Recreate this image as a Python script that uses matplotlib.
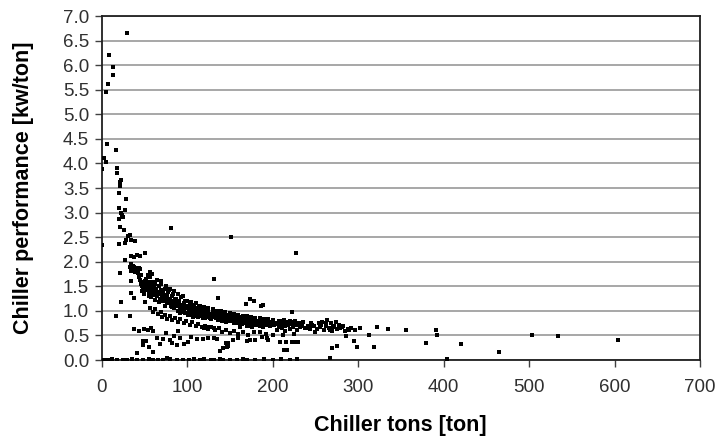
import matplotlib
matplotlib.use('Agg')
import matplotlib.pyplot as plt

# ── Chiller data (tons, kw/ton) ─────────────────────────────────────────────
# steep low-load part
steep_x = [30, 9, 14, 14, 8, 5, 6, 17, 3, 5, 0.5, 18, 18, 23, 22, 22, 21, 29, 20, 27,
           23, 24, 25, 20, 22, 26, 81, 33, 31, 29, 35, 39, 27, 21, 0.5, 151, 227,
           1, 35, 38, 42, 45, 51, 27.5, 33, 36, 39, 41, 43, 37, 35, 21.6, 44, 54, 57, 59,
           34.5, 35, 38, 40, 45, 56.7, 35, 131, 136.6, 174, 178, 169, 187, 189]
steep_y = [6.65, 6.21, 5.96, 5.8, 5.61, 5.45, 4.39, 4.27, 4.12, 4.02, 3.88, 3.9, 3.8, 3.67,
           3.63, 3.54, 3.39, 3.28, 3.1, 3.05, 3.0, 2.96, 2.92, 2.86, 2.71, 2.64, 2.69, 2.55,
           2.52, 2.45, 2.45, 2.43, 2.39, 2.37, 2.34, 2.51, 2.18,
           2.35, 2.12, 2.1, 2.14, 2.11, 2.18, 2.04, 1.9, 1.85, 1.8, 1.88, 1.78, 1.92, 1.82,
           1.77, 1.87, 1.72, 1.68, 1.76, 1.95, 1.6, 1.9, 1.84, 1.86, 1.8, 1.6, 1.65, 1.27,
           1.24, 1.2, 1.14, 1.1, 1.12]

# main decay band
band_x = [45, 46, 47, 48, 49, 50, 51, 52, 53, 54, 55, 56, 57, 58, 59, 60, 44, 46, 50, 55,
          61, 62, 63, 64, 65, 66, 67, 68, 69, 70, 71, 72, 73, 74, 75, 76, 77, 78, 79, 80,
          81, 82, 83, 84, 85, 86, 87, 88, 89, 90, 91, 92, 93, 94, 95, 96, 97, 98, 99, 100,
          102, 103, 104, 105, 106, 107, 108, 109, 110, 111, 112, 113, 114, 115, 116, 117,
          118, 119, 120, 121, 122, 123, 124, 125, 126, 127, 128, 129, 130, 131, 132, 133,
          134, 135, 136, 137, 138, 139, 140, 141, 142, 143, 144, 145, 146, 147, 148, 149,
          150, 151, 152, 153, 154, 155, 156, 157, 158, 159, 160, 161, 162, 163, 164, 165,
          166, 167, 168, 169, 170, 171, 172, 173, 174, 175, 176, 177, 178, 179, 180, 181,
          182, 183, 184, 185, 186, 187, 188, 189, 190, 192, 193, 194, 195, 196, 198, 200,
          202, 204, 206, 208, 210, 212, 214, 216, 218, 220, 222, 225, 228, 231,
          60, 65, 70, 75, 80, 85, 90, 95, 100, 105, 110, 115, 120, 125, 130, 135, 140, 145,
          150, 155, 160, 165, 170, 175, 180, 185, 190, 195, 200, 210, 220]
band_y = [1.62, 1.55, 1.5, 1.58, 1.45, 1.52, 1.6, 1.42, 1.48, 1.55, 1.38, 1.45, 1.5, 1.35,
          1.42, 1.48, 1.68, 1.72, 1.35, 1.3, 1.32, 1.4, 1.55, 1.45, 1.3, 1.38, 1.5, 1.25,
          1.35, 1.42, 1.28, 1.2, 1.32, 1.45, 1.25, 1.15, 1.3, 1.38, 1.18, 1.25, 1.1, 1.2,
          1.3, 1.15, 1.05, 1.22, 1.12, 1.18, 1.0, 1.1, 1.2, 1.05, 1.12, 0.98, 1.08, 1.15,
          1.02, 0.95, 1.1, 1.05, 0.98, 1.12, 1.0, 0.92, 1.05, 0.97, 1.08, 0.9, 1.0, 0.95,
          1.05, 0.88, 0.98, 0.93, 1.02, 0.9, 0.96, 0.86, 0.95, 1.0, 0.9, 0.95, 0.88, 0.98,
          0.92, 0.85, 0.94, 0.9, 0.97, 0.87, 0.92, 0.95, 0.85, 0.9, 0.93, 0.86, 0.9, 0.82,
          0.88, 0.92, 0.85, 0.89, 0.83, 0.87, 0.9, 0.82, 0.86, 0.8, 0.88, 0.84, 0.8, 0.87,
          0.82, 0.85, 0.78, 0.83, 0.86, 0.8, 0.84, 0.78, 0.82, 0.76, 0.8, 0.84, 0.78, 0.81,
          0.75, 0.8, 0.83, 0.77, 0.8, 0.74, 0.79, 0.82, 0.76, 0.79, 0.73, 0.78, 0.8, 0.74,
          0.77, 0.72, 0.78, 0.75, 0.79, 0.72, 0.76, 0.73, 0.78, 0.74, 0.71, 0.76, 0.73,
          0.77, 0.72, 0.75, 0.71, 0.76, 0.73, 0.7, 0.75, 0.72, 0.78, 0.74, 0.71, 0.76, 0.73,
          0.78, 0.72, 0.75,
          1.58, 1.62, 1.6, 1.5, 1.45, 1.4, 1.35, 1.3, 1.2, 1.18, 1.15, 1.1, 1.08, 1.05,
          1.03, 1.0, 1.0, 0.97, 0.95, 0.93, 0.92, 0.9, 0.9, 0.88, 0.86, 0.85, 0.84, 0.83,
          0.82, 0.8, 0.8]

# extra readings that thicken the band
band2_x = [47, 52, 56, 58, 61, 63, 67, 69, 72, 74, 78, 79, 83, 84, 87, 89, 92, 93, 97, 98,
           101, 103, 104, 107, 108, 111, 113, 114, 117, 118, 121, 122, 124, 127, 128, 131,
           133, 134, 136, 137, 139, 141, 143, 144, 146, 148, 149, 151, 153, 155, 156, 158,
           160, 162, 164, 166, 168, 171, 173, 175, 177, 179, 181, 183, 185, 187, 189, 191,
           194, 197, 199, 203, 207, 211, 215, 219, 224, 227, 233, 236, 240, 245, 248, 252,
           257, 263, 267, 271, 279, 283, 290]
band2_y = [1.4, 1.65, 1.58, 1.28, 1.52, 1.22, 1.18, 1.55, 1.38, 1.1, 1.22, 1.42, 1.08,
           1.35, 1.25, 1.15, 0.95, 1.28, 1.12, 1.2, 0.92, 1.05, 1.15, 0.88, 1.12, 1.02,
           0.95, 1.1, 0.97, 1.05, 0.85, 0.97, 1.02, 0.92, 0.83, 0.95, 0.88, 1.0, 0.82, 0.95,
           0.9, 0.8, 0.93, 0.86, 0.78, 0.92, 0.85, 0.79, 0.9, 0.76, 0.87, 0.81, 0.75, 0.88,
           0.74, 0.83, 0.79, 0.85, 0.7, 0.78, 0.84, 0.71, 0.8, 0.76, 0.7, 0.82, 0.68, 0.75,
           0.8, 0.69, 0.78, 0.74, 0.68, 0.77, 0.7, 0.73, 0.67, 0.74, 0.7, 0.78, 0.66, 0.76,
           0.7, 0.64, 0.72, 0.76, 0.62, 0.67, 0.66, 0.7, 0.61]

# lower sub-band
sub_x = [57, 60, 63, 66, 69, 71, 74, 77, 80, 83, 86, 89, 92, 96, 99, 103, 106, 110, 113,
         117, 121, 124, 128, 133, 137, 141, 146, 150, 155, 160, 166, 171, 178, 185, 192,
         200, 212, 225]
sub_y = [1.06, 0.98, 1.04, 0.93, 0.97, 0.88, 0.92, 0.84, 0.9, 0.82, 0.86, 0.78, 0.83,
         0.75, 0.8, 0.72, 0.77, 0.7, 0.74, 0.67, 0.7, 0.64, 0.68, 0.61, 0.65, 0.58, 0.62,
         0.55, 0.59, 0.53, 0.56, 0.5, 0.58, 0.56, 0.52, 0.5, 0.5, 0.52]

# right tail, beyond 200 tons
tail_x = [205, 208, 211, 213, 215, 218, 221, 224, 226, 229, 232, 235, 238, 241, 244, 246,
          250, 254, 256, 258, 260, 262, 264, 266, 268, 270, 272, 274, 276, 278, 281, 285,
          288, 292, 297, 302, 313, 322, 335, 356, 391, 392, 380, 420, 465, 504, 534, 604,
          286, 269, 275, 295, 299, 319, 214, 216, 223, 226, 230, 222.5]
tail_y = [0.62, 0.8, 0.66, 0.82, 0.6, 0.78, 0.64, 0.7, 0.8, 0.62, 0.68, 0.74, 0.65, 0.7,
          0.63, 0.72, 0.58, 0.75, 0.68, 0.78, 0.62, 0.7, 0.81, 0.66, 0.75, 0.6, 0.7, 0.77,
          0.64, 0.72, 0.68, 0.6, 0.64, 0.65, 0.62, 0.66, 0.51, 0.67, 0.63, 0.61, 0.61, 0.51,
          0.34, 0.32, 0.17, 0.51, 0.48, 0.41, 0.49, 0.24, 0.29, 0.39, 0.27, 0.26, 0.2, 0.37,
          0.36, 0.36, 0.37, 0.97]

# scattered low readings
low_x = [33, 17, 22.5, 51, 35, 38, 38, 44, 50, 54, 48.5, 42, 55, 60, 65, 72, 80, 82, 85,
         88, 92, 96, 101, 105, 112, 49, 52, 68, 119, 125, 131, 135, 139, 142, 148, 148,
         146, 147, 154, 160, 170, 174, 180, 188, 193, 195, 209, 217, 120, 126, 131, 162,
         170, 176, 60, 58, 75, 90]
low_y = [0.9, 0.9, 1.19, 1.19, 1.37, 1.26, 0.63, 0.6, 0.64, 0.62, 0.39, 0.14, 0.26, 0.17,
         0.45, 0.42, 0.4, 0.35, 0.48, 0.3, 0.44, 0.33, 0.37, 0.46, 0.42, 0.3, 0.38, 0.33,
         0.43, 0.45, 0.44, 0.43, 0.18, 0.25, 0.29, 0.35, 0.35, 0.27, 0.41, 0.45, 0.39, 0.41,
         0.4, 0.47, 0.44, 0.4, 0.37, 0.2, 0.66, 0.68, 0.65, 0.68, 0.69, 0.67, 0.6, 0.65,
         0.55, 0.6]

# readings sitting on zero
zero_x = [0, 3, 8, 12, 18, 25, 30, 36, 42, 48, 55, 60, 66, 72, 76, 80, 88, 95, 102, 108,
          115, 120, 128, 131, 138, 142, 150, 158, 165, 170, 180, 190, 200, 210, 220, 229,
          267, 404]
zero_y = [0, 0.01, 0, 0.02, 0, 0.01, 0, 0.02, 0, 0.01, 0.03, 0, 0.01, 0, 0.05, 0.02, 0,
          0.01, 0, 0.02, 0, 0.02, 0.01, 0, 0.02, 0, 0.01, 0, 0.02, 0, 0.01, 0.03, 0.01,
          0.02, 0, 0.02, 0.05, 0.02]

xs = steep_x + band_x + band2_x + sub_x + tail_x + low_x + zero_x
ys = steep_y + band_y + band2_y + sub_y + tail_y + low_y + zero_y

plt.rcParams['font.family'] = ['Liberation Sans', 'DejaVu Sans']

fig = plt.figure(figsize=(7.17, 4.40), dpi=100)
ax = fig.add_axes([0.1416, 0.1818, 0.8347, 0.7818])

ax.scatter(xs, ys, s=5, marker='s', color='black', linewidths=0, zorder=3)

ax.set_xlim(0, 700)
ax.set_ylim(0, 7.0)
ax.set_xticks(range(0, 701, 100))
ax.set_yticks([i * 0.5 for i in range(15)])
ax.set_yticklabels([f'{i * 0.5:.1f}' for i in range(15)])
ax.yaxis.grid(True, color='#a0a0a0', lw=1.3)
ax.set_axisbelow(True)
for sp in ax.spines.values():
    sp.set_color('#202020')
    sp.set_linewidth(1.3)
ax.tick_params(direction='out', length=5, width=1, color='#404040',
               labelsize=13.5, labelcolor='#303030')
ax.tick_params(axis='x', pad=9)
ax.tick_params(axis='y', pad=4)

ax.set_xlabel('Chiller tons [ton]', fontsize=15.5, fontweight='bold')
ax.set_ylabel('Chiller performance [kw/ton]', fontsize=15.5, fontweight='bold')
ax.xaxis.set_label_coords(0.5, -0.16)
ax.yaxis.set_label_coords(-0.113, 0.5)

fig.savefig('out.png', dpi=100)
